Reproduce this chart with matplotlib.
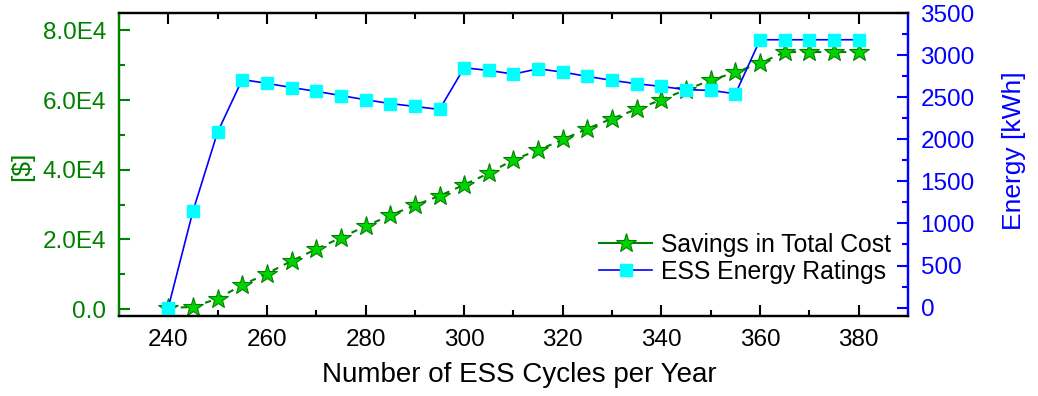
import matplotlib.pyplot as plt
from matplotlib.ticker import MultipleLocator, FuncFormatter
from matplotlib.lines import Line2D

plt.rcParams['font.family'] = ['Liberation Sans', 'DejaVu Sans']

# cycles per year
cycles = [240, 245, 250, 255, 260, 265, 270, 275, 280, 285, 290, 295, 300, 305,
          310, 315, 320, 325, 330, 335, 340, 345, 350, 355, 360, 365, 370, 375, 380]

# savings in total cost [$]
savings = [300, 600, 3000, 6900, 10200, 13800, 17200, 20500, 23800, 26900, 29800,
           32500, 35700, 39000, 42900, 45600, 48700, 51800, 54700, 57400, 60100,
           63000, 65700, 68000, 70600, 73800, 73800, 73800, 73800]

# ESS energy ratings [kWh]
energy = [0, 1145, 2085, 2710, 2665, 2615, 2570, 2520, 2470, 2425, 2390, 2355,
          2850, 2818, 2775, 2838, 2798, 2747, 2700, 2660, 2628, 2590, 2581, 2541,
          3183, 3183, 3183, 3183, 3183]

GREEN = '#008000'
STAR = '#00d400'
BLUE = '#0000ff'
CYAN = '#00ffff'

fig = plt.figure(figsize=(10.38, 3.96), dpi=100)
ax = fig.add_axes([0.1146, 0.202, 0.7602, 0.765])
ax2 = ax.twinx()

ax.plot(cycles, savings, color=GREEN, linewidth=1.5, linestyle=(0, (3, 3)), marker='*',
        markersize=15, markerfacecolor=STAR, markeredgecolor=GREEN,
        markeredgewidth=0.8)
# energy ratings drawn on the twin axis, above the stars
ax2.plot(cycles, energy, color=BLUE, linewidth=1.2, marker='s', markersize=9,
         markerfacecolor=CYAN, markeredgecolor=CYAN)

ax.set_xlim(230, 390)
ax.set_ylim(-2000, 85000)
ax2.set_ylim(-100, 3500)

ax.xaxis.set_major_locator(MultipleLocator(20))
ax.xaxis.set_minor_locator(MultipleLocator(10))
ax.yaxis.set_major_locator(MultipleLocator(20000))
ax.yaxis.set_minor_locator(MultipleLocator(10000))
ax2.yaxis.set_major_locator(MultipleLocator(500))
ax2.yaxis.set_minor_locator(MultipleLocator(250))

ax.yaxis.set_major_formatter(FuncFormatter(
    lambda v, p: '0.0' if v == 0 else f'{v / 1e4:.1f}E4'))

fs = 17.5
ax.tick_params(axis='x', which='both', direction='in', top=True, width=1.5,
               labelsize=fs, pad=9)
ax.tick_params(axis='x', which='major', length=8)
ax.tick_params(axis='x', which='minor', length=4.5)
ax.tick_params(axis='y', which='both', direction='in', width=1.5, color=GREEN,
               labelcolor=GREEN, labelsize=fs, pad=9)
ax.tick_params(axis='y', which='major', length=8)
ax.tick_params(axis='y', which='minor', length=4.5)
ax2.tick_params(axis='y', which='both', direction='in', width=1.5, color=BLUE,
                labelcolor=BLUE, labelsize=fs, pad=9)
ax2.tick_params(axis='y', which='major', length=8)
ax2.tick_params(axis='y', which='minor', length=4.5)

for a in (ax, ax2):
    for s in a.spines.values():
        s.set_linewidth(1.6)
    a.spines['left'].set_color(GREEN)
    a.spines['right'].set_color(BLUE)

ax.set_xlabel('Number of ESS Cycles per Year', fontsize=20)
ax.xaxis.set_label_coords(0.507, -0.152)
ax.set_ylabel('[$]', fontsize=19, color=GREEN)
ax.yaxis.set_label_coords(-0.108, 0.495)
ax2.set_ylabel('Energy [kWh]', fontsize=19, color=BLUE)
ax2.yaxis.set_label_coords(1.119, 0.545)

handles = [
    Line2D([], [], color=GREEN, linewidth=1.5, marker='*', markersize=15,
           markerfacecolor=STAR, markeredgecolor=GREEN, markeredgewidth=0.8),
    Line2D([], [], color=BLUE, linewidth=1.2, marker='s', markersize=9,
           markerfacecolor=CYAN, markeredgecolor=CYAN),
]
ax2.legend(handles, ['Savings in Total Cost', 'ESS Energy Ratings'], loc='lower right',
           bbox_to_anchor=(1.0, 0.05), frameon=False, fontsize=17.8, handlelength=2.15,
           handletextpad=0.35, labelspacing=0.1, borderaxespad=0.3)

fig.savefig('out.png', dpi=100)
